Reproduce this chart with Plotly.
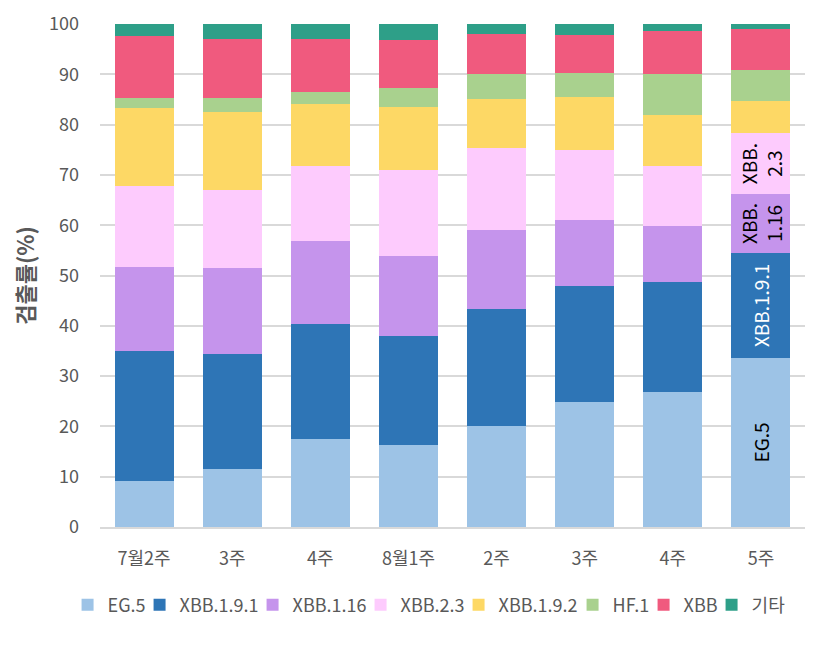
import plotly.graph_objects as go

categories = ["7월2주", "3주", "4주", "8월1주", "2주", "3주", "4주", "5주"]
series_names = ["EG.5", "XBB.1.9.1", "XBB.1.16", "XBB.2.3", "XBB.1.9.2", "HF.1", "XBB", "기타"]

eg5 = [9.1, 11.5, 17.5, 16.3, 20.1, 24.9, 26.8, 33.6]
xbb191 = [25.9, 22.9, 22.9, 21.7, 23.2, 23.0, 21.9, 20.9]
xbb116 = [16.7, 17.1, 16.5, 15.9, 15.7, 13.1, 11.1, 11.7]
xbb23 = [16.1, 15.5, 14.9, 17.1, 16.3, 14.0, 12.0, 12.1]
xbb192 = [15.5, 15.5, 12.3, 12.5, 9.8, 10.5, 10.1, 6.4]
hf1 = [2.0, 2.8, 2.4, 3.8, 5.0, 4.8, 8.2, 6.2]
xbb = [12.3, 11.7, 10.5, 9.5, 7.9, 7.5, 8.5, 8.1]
etc = [2.4, 3.0, 3.0, 3.2, 2.0, 2.2, 1.4, 1.2]

# labels shown inside the last bar only
last_labels = ["EG.5", "XBB.1.9.1", "XBB.<br>1.16", "XBB.<br>2.3", "", "", "", ""]

values = [eg5, xbb191, xbb116, xbb23, xbb192, hf1, xbb, etc]
colors = ["#9DC3E6", "#2E75B6", "#C594EC", "#FDCBFD", "#FDD865", "#A9D18E", "#F05A7E", "#2E9F88"]
label_colors = ["#000000", "#FFFFFF", "#000000", "#000000", "#000000", "#000000", "#000000", "#000000"]
legend_widths = [27, 68, 63, 53, 69, 26, 23, 40]

FONT = "Noto Sans CJK KR"
xpos = list(range(len(categories)))

fig = go.Figure()
for name, vals, col, lab, lc, lw in zip(series_names, values, colors, last_labels, label_colors, legend_widths):
    txt = [""] * (len(categories) - 1) + [lab]
    fig.add_trace(go.Bar(
        x=xpos, y=vals, name=name,
        marker=dict(color=col, line=dict(width=0)),
        text=txt, textposition="inside", insidetextanchor="middle",
        textangle=-90, constraintext="none",
        textfont=dict(family=FONT, size=19, color=lc),
        legendwidth=lw,
        hoverinfo="skip",
    ))

fig.update_layout(
    barmode="stack",
    bargap=0.33,
    width=828, height=645,
    margin=dict(l=92, r=31, t=16, b=126, autoexpand=False),
    paper_bgcolor="white", plot_bgcolor="white",
    font=dict(family=FONT, size=17, color="#595959"),
    legend=dict(orientation="h", x=-0.046, xanchor="left",
                y=-0.155, yanchor="middle",
                font=dict(size=18, color="#595959"), itemwidth=30,
                traceorder="normal", bgcolor="rgba(0,0,0,0)"),
    showlegend=True,
)

fig.update_xaxes(
    tickmode="array", tickvals=xpos, ticktext=categories,
    range=[-0.5, len(categories) - 0.5],
    showline=True, linecolor="#D9D9D9", linewidth=2,
    showgrid=False, ticks="", ticklabelstandoff=14, tickangle=0,
    tickfont=dict(size=18, color="#595959"),
)
fig.update_yaxes(
    range=[0, 100], dtick=10,
    showgrid=True, gridcolor="#D9D9D9", gridwidth=2,
    zeroline=False, ticks="", ticklabelstandoff=20,
    tickfont=dict(size=18, color="#595959"),
    title=dict(text="<b>검출률(%)</b>", font=dict(size=22, color="#595959"), standoff=12),
)

fig.write_html("out.html")
